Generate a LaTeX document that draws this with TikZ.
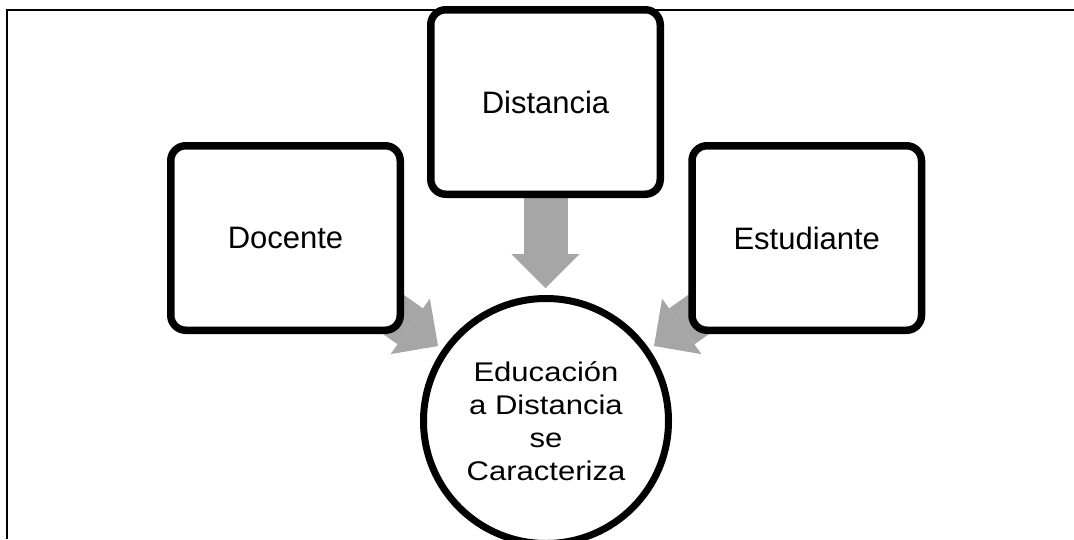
\documentclass[tikz,border=0pt]{standalone}
\usepackage{fontspec}
\setmainfont{Liberation Sans}
\newfontfamily\widefont[FakeStretch=1.15]{Liberation Sans}
\usetikzlibrary{arrows.meta,shadows,backgrounds}
\definecolor{arrowgray}{HTML}{A6A6A6}
\begin{document}
\begin{tikzpicture}[x=1pt,y=-1pt,
  box/.style={draw=black, fill=white, line width=7.5pt, rounded corners=15pt,
    minimum width=229.5pt, minimum height=184.5pt, inner sep=0pt,
    font=\fontsize{31}{37}\selectfont,
    drop shadow={opacity=0.22, shadow xshift=1.5pt, shadow yshift=-3pt}},
  hub/.style={circle, draw=black, fill=white, line width=7pt, minimum size=245pt,
    inner sep=0pt, align=center, font=\widefont\fontsize{27}{33.2}\selectfont},
  bigarrow/.style={draw=arrowgray, line width=44pt,
    -{Triangle[width=68pt,length=34pt,line width=0pt]}},
  frame/.style={draw=black, line width=2pt}]
\useasboundingbox (0,0) rectangle (1074,539);
\node[box] (doc) at (285.5,238) {Docente};
\node[box] (dis) at (545.5,102) {Distancia};
\node[box] (est) at (806.75,238) {Estudiante};
\node[hub] (edu) at (546,421) {Educación\\a Distancia\\se\\Caracteriza};
\coordinate (t1) at (438,346);
\coordinate (t2) at (545.5,288);
\coordinate (t3) at (654,346);
\begin{scope}[on background layer]
  \coordinate (fa) at (7,539);
  \coordinate (fb) at (7,10);
  \coordinate (fc) at (1074,10);
  \draw[frame] (fa) -- (fb) -- (fc);
  \draw[bigarrow] (doc.center) -- (t1);
  \draw[bigarrow] (dis.center) -- (t2);
  \draw[bigarrow] (est.center) -- (t3);
\end{scope}
\end{tikzpicture}
\end{document}
